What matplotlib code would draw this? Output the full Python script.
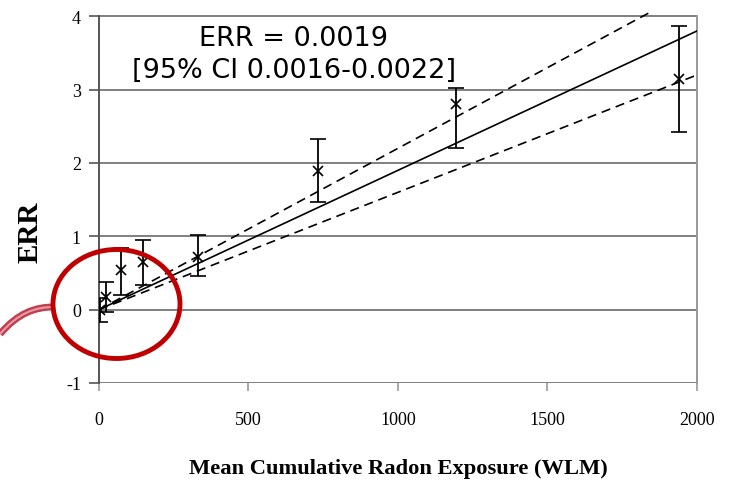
import numpy as np
import matplotlib.pyplot as plt
from matplotlib.patches import Ellipse
from matplotlib.path import Path
from matplotlib.patches import PathPatch

# mean cumulative exposure (WLM) and excess relative risk per category
exposure = [3, 22, 74, 148, 332, 731, 1194, 1940]
err = [0.0, 0.17, 0.54, 0.65, 0.72, 1.89, 2.80, 3.14]
err_low = [-0.17, -0.03, 0.20, 0.33, 0.46, 1.47, 2.21, 2.42]
err_high = [0.16, 0.38, 0.84, 0.95, 1.02, 2.32, 3.02, 3.87]

# fitted linear ERR per WLM with 95% CI
slope = 0.0019
slope_lo = 0.0016
slope_hi = 0.0022

xticks = [0, 500, 1000, 1500, 2000]
yticks = [-1, 0, 1, 2, 3, 4]

fig = plt.figure(figsize=(7.29, 4.81), dpi=100)
ax = fig.add_axes([0.1358, 0.2017, 0.8203, 0.7715])

ax.set_xlim(0, 2000)
ax.set_ylim(-1, 4.06)

for y in yticks:
    ax.axhline(y, color='#7f7f7f', lw=1.4, zorder=1)

x = np.array(exposure, dtype=float)
yerr = [np.array(err) - np.array(err_low), np.array(err_high) - np.array(err)]
ax.errorbar(x, err, yerr=yerr, fmt='x', color='black', ms=7, mew=1.2,
            ecolor='black', elinewidth=1.3, capsize=6, capthick=1.3, zorder=4)

xx = np.linspace(0, 2000, 200)
ax.plot(xx, slope * xx, color='black', lw=1.2, zorder=3)
ax.plot(xx, slope_lo * xx, color='black', lw=1.2, ls=(0, (5.5, 3.5)), zorder=3)
ax.plot(xx, slope_hi * xx, color='black', lw=1.2, ls=(0, (5.5, 3.5)), zorder=3)

ax.spines['top'].set_visible(False)
ax.spines['bottom'].set_visible(False)
ax.spines['left'].set_color('#555555')
ax.spines['left'].set_linewidth(1.4)
ax.spines['left'].set_bounds(-1, 4)
ax.spines['right'].set_color('#999999')
ax.spines['right'].set_linewidth(1.4)
ax.spines['right'].set_bounds(-1, 4)

ax.set_xticks(xticks)
ax.set_yticks(yticks)
ax.set_xticklabels([str(t) for t in xticks], fontfamily='Liberation Serif', fontsize=13)
ax.set_yticklabels([str(t) for t in yticks], fontfamily='Liberation Serif', fontsize=13)
ax.tick_params(axis='x', direction='out', length=6, width=1.2, color='#999999', pad=14)
ax.tick_params(axis='y', direction='out', length=7, width=1.2, color='#555555', pad=6)

ax.set_xlabel('Mean Cumulative Radon Exposure (WLM)', fontfamily='Liberation Serif',
              fontweight='bold', fontsize=16.2, labelpad=22)
ax.set_ylabel('ERR', fontfamily='Liberation Serif', fontweight='bold', fontsize=21)
ax.yaxis.set_label_coords(-0.092, 0.41)

ax.text(652, 3.48, 'ERR = %.4f\n[95%% CI %.4f-%.4f]' % (slope, slope_lo, slope_hi),
        ha='center', va='center', fontsize=19.5,
        fontfamily='DejaVu Sans', linespacing=1.3, zorder=5)

# red circle highlighting the low exposure region, with a tail to the left
fig.patches.append(Ellipse((116.5 / 729, 1 - 305 / 481), 127 / 729, 109 / 481,
                           transform=fig.transFigure, fill=False,
                           edgecolor='#c00000', lw=3.5, zorder=10))
tail = Path([(0.0, 1 - 335 / 481), (18 / 729, 1 - 314 / 481),
             (35 / 729, 1 - 308 / 481), (54 / 729, 1 - 308 / 481)],
            [Path.MOVETO, Path.CURVE4, Path.CURVE4, Path.CURVE4])
fig.patches.append(PathPatch(tail, transform=fig.transFigure, fill=False,
                             edgecolor='#c0404f', lw=5, zorder=9))
fig.patches.append(PathPatch(tail, transform=fig.transFigure, fill=False,
                             edgecolor='#e89aa4', lw=1.5, zorder=9))

fig.savefig('out.png', dpi=100)
